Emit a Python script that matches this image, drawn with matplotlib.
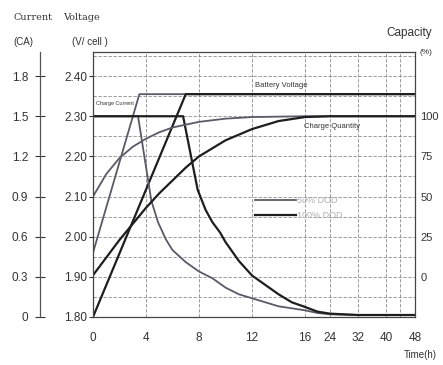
import numpy as np
import matplotlib
matplotlib.use("Agg")
import matplotlib.pyplot as plt

# time axis (hours) and where each tick sits on the drawn axis (non-linear)
tick_hours = [0, 4, 8, 12, 16, 24, 32, 40, 48]
tick_pos = [0, 53, 106, 159, 212, 237, 265, 293, 322]

# voltage (V/cell)
volt_50_h = [0, 3.5, 48]
volt_50 = [1.96, 2.355, 2.355]
volt_100_h = [0, 7.0, 48]
volt_100 = [1.80, 2.355, 2.355]

# charge current (CA)
curr_50_h = [0, 3.4, 4.4, 4.9, 5.5, 6.0, 7.0, 8.0, 9.0, 10.0, 11.0, 12.0, 13.0, 14.0, 16.0, 20.0, 24.0, 32.0, 48.0]
curr_50 = [1.5, 1.5, 0.87, 0.71, 0.58, 0.50, 0.41, 0.34, 0.29, 0.22, 0.17, 0.14, 0.11, 0.08, 0.05, 0.03, 0.02, 0.015, 0.015]
curr_100_h = [0, 6.8, 7.9, 8.5, 9.0, 9.6, 10.0, 11.0, 12.0, 13.0, 14.0, 15.0, 16.0, 20.0, 24.0, 32.0, 48.0]
curr_100 = [1.5, 1.5, 0.95, 0.80, 0.71, 0.63, 0.56, 0.42, 0.31, 0.24, 0.17, 0.11, 0.075, 0.04, 0.025, 0.015, 0.015]

# charge quantity (capacity %)
cap_50_h = [0, 1, 2, 3, 4, 5, 6, 8, 10, 12, 16, 24, 48]
cap_50 = [50, 64, 74, 81, 86, 90, 93, 96.5, 98.5, 99.5, 100, 100, 100]
cap_100_h = [0, 1, 2, 3, 4, 5, 6, 7, 8, 10, 12, 14, 16, 24, 48]
cap_100 = [1, 12, 23, 33, 43, 52, 60, 68, 75, 85, 92, 97, 99.5, 100, 100]

volt_ticks = [1.80, 1.90, 2.00, 2.10, 2.20, 2.30, 2.40]
curr_ticks = [0, 0.3, 0.6, 0.9, 1.2, 1.5, 1.8]
cap_ticks = [0, 25, 50, 75, 100]


def fwd(x):
    return np.interp(x, tick_hours, tick_pos)


def inv(p):
    return np.interp(p, tick_pos, tick_hours)


def i2v(i):
    return 1.8 + np.asarray(i) / 3.0


def v2i(v):
    return (np.asarray(v) - 1.8) * 3.0


def c2v(c):
    return 1.9 + np.asarray(c) / 250.0


def v2c(v):
    return (np.asarray(v) - 1.9) * 250.0


plt.rcParams["font.family"] = ["Liberation Sans", "DejaVu Sans"]
txt = "#333333"
dark = "#1e1e1e"
grey = "#5a5a66"

fig = plt.figure(figsize=(4.43, 3.65), dpi=100)
fig.patch.set_facecolor("white")
ax = fig.add_axes([93 / 443, 1 - 317 / 365, 322 / 443, 265 / 365])

ax.set_xscale("function", functions=(fwd, inv))
ax.set_xlim(0, 48)
ax.set_ylim(1.80, 2.46)

# curves
ax.plot(volt_50_h, volt_50, color=grey, lw=1.3, label="50% DOD")
ax.plot(volt_100_h, volt_100, color=dark, lw=1.6, label="100% DOD")
ax.plot(curr_50_h, i2v(curr_50), color=grey, lw=1.3)
ax.plot(curr_100_h, i2v(curr_100), color=dark, lw=1.6)
ax.plot(cap_50_h, c2v(cap_50), color=grey, lw=1.3)
ax.plot(cap_100_h, c2v(cap_100), color=dark, lw=1.6)

# grid
ax.set_xticks(tick_hours)
ax.set_xticklabels([str(h) for h in tick_hours])
ax.set_xticks([44], minor=True)
ax.set_yticks(volt_ticks)
ax.set_yticklabels(["%.2f" % v for v in volt_ticks])
ax.set_yticks(np.arange(1.85, 2.46, 0.1), minor=True)
ax.grid(True, which="both", color="#8c8c8c", lw=0.6, linestyle=(0, (4, 2)))
ax.tick_params(axis="x", which="both", length=0, pad=11, labelsize=8.5, colors=txt)
ax.tick_params(axis="y", which="major", direction="out", length=3, pad=1, labelsize=8.5, colors=txt)
ax.tick_params(axis="y", which="minor", length=0)
for s in ax.spines.values():
    s.set_color("#444444")
    s.set_linewidth(0.9)

# current axis, set off to the left
sec = ax.secondary_yaxis(-53 / 322, functions=(v2i, i2v))
sec.set_yticks(curr_ticks)
sec.set_yticklabels(["0" if c == 0 else "%.1f" % c for c in curr_ticks])
sec.tick_params(direction="inout", length=7, pad=5, labelsize=8.5, colors=txt)
sec.spines["left"].set_color("#555555")
sec.spines["left"].set_linewidth(0.9)

# capacity axis on the right
cap = ax.secondary_yaxis("right", functions=(v2c, c2v))
cap.set_yticks(cap_ticks)
cap.tick_params(length=0, pad=4, labelsize=8, colors=txt)
cap.spines["right"].set_visible(False)

# labels on the curves
ax.text(0.503, 0.872, "Battery Voltage", transform=ax.transAxes, fontsize=5.5, color=txt, va="center")
ax.text(0.01, 0.806, "Charge Current", transform=ax.transAxes, fontsize=4, color=txt, va="center")
ax.text(0.655, 0.717, "Charge Quantity", transform=ax.transAxes, fontsize=5.5, color=txt, va="center")

leg = ax.legend(loc="upper left", bbox_to_anchor=(0.503, 0.455), frameon=False, fontsize=6.5,
                handlelength=4.6, handletextpad=0.1, labelspacing=0.6, borderpad=0, borderaxespad=0)
for t in leg.get_texts():
    t.set_color("#b0b0b0")

# axis titles
fig.text(13 / 443, 1 - 17 / 365, "Current", fontsize=7, family="DejaVu Serif", color=txt, va="center")
fig.text(63 / 443, 1 - 17 / 365, "Voltage", fontsize=7, family="DejaVu Serif", color=txt, va="center")
fig.text(13 / 443, 1 - 42 / 365, "(CA)", fontsize=7, color=txt, va="center")
fig.text(72 / 443, 1 - 42 / 365, "(V/ cell )", fontsize=7, color=txt, va="center")
fig.text(432 / 443, 1 - 33 / 365, "Capacity", fontsize=8.5, color=txt, va="center", ha="right")
fig.text(420 / 443, 1 - 53 / 365, "(%)", fontsize=6, color=txt, va="center")
fig.text(437 / 443, 1 - 355 / 365, "Time(h)", fontsize=7, color=txt, va="center", ha="right")

fig.savefig("out.png", dpi=100)
